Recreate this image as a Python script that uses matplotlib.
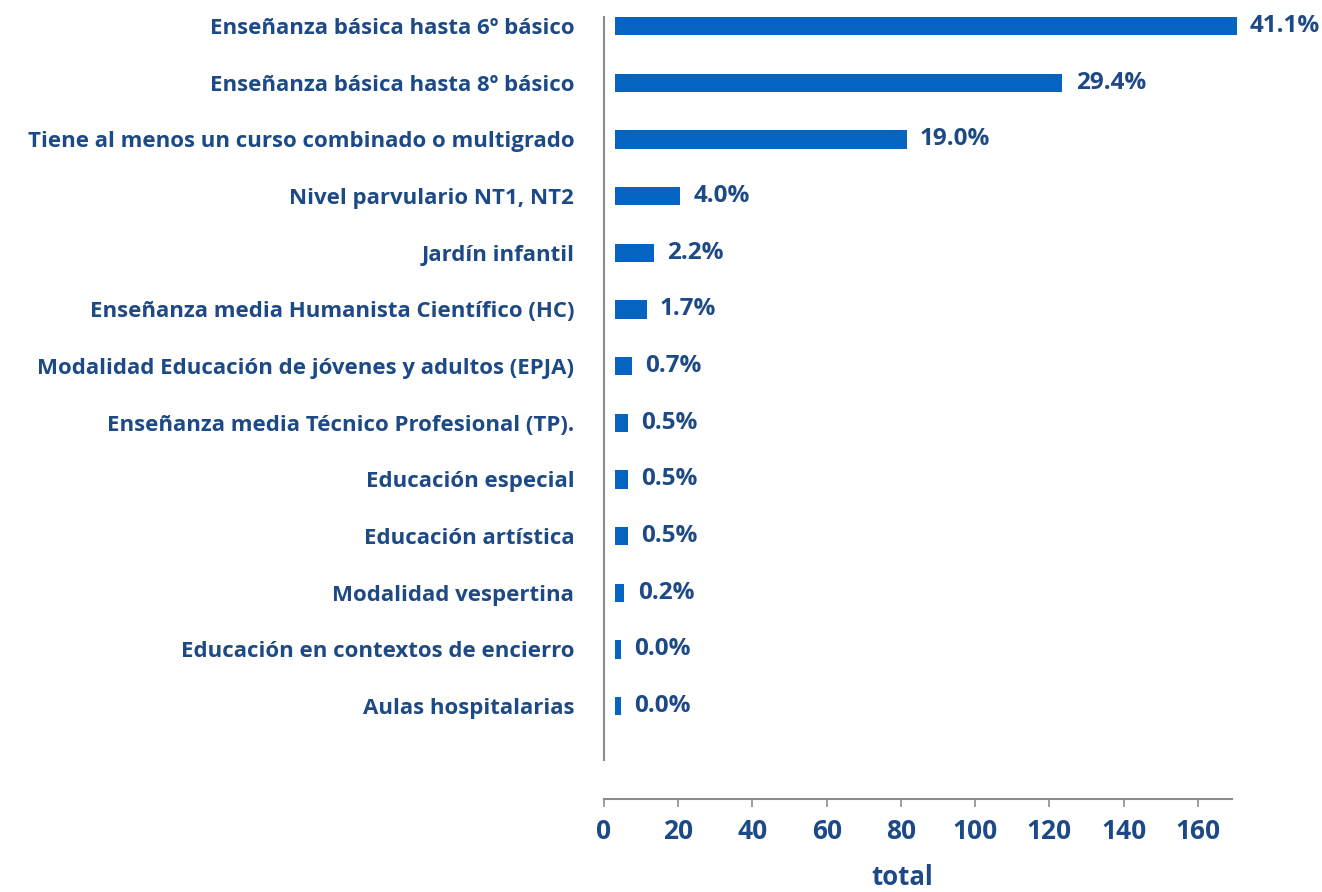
import matplotlib.pyplot as plt

plt.rcParams['font.family'] = ['Open Sans', 'DejaVu Sans']

# data
categories = [
    "Enseñanza básica hasta 6º básico",
    "Enseñanza básica hasta 8º básico",
    "Tiene al menos un curso combinado o multigrado",
    "Nivel parvulario NT1, NT2",
    "Jardín infantil",
    "Enseñanza media Humanista Científico (HC)",
    "Modalidad Educación de jóvenes y adultos (EPJA)",
    "Enseñanza media Técnico Profesional (TP).",
    "Educación especial",
    "Educación artística",
    "Modalidad vespertina",
    "Educación en contextos de encierro",
    "Aulas hospitalarias",
]
totals = [166, 119, 77, 16, 9, 7, 3, 2, 2, 2, 1, 0, 0]
pct_labels = ["41.1%", "29.4%", "19.0%", "4.0%", "2.2%", "1.7%", "0.7%",
              "0.5%", "0.5%", "0.5%", "0.2%", "0.0%", "0.0%"]
xticks = [0, 20, 40, 60, 80, 100, 120, 140, 160]

# style
bar_color = '#0563c1'
text_color = '#1d4a86'
axis_color = '#8c8c8c'
bar_start = 3.0   # bars drawn slightly detached from the axis
bar_pad = 1.5     # minimum visible length

fig = plt.figure(figsize=(13.22, 8.92), dpi=100)
ax = fig.add_axes([0.4569, 0.148, 0.4748, 0.8329])

# spines first (set_position resets the ticks)
for s in ['top', 'right']:
    ax.spines[s].set_visible(False)
ax.spines['left'].set_color(axis_color)
ax.spines['left'].set_linewidth(1.5)
ax.spines['bottom'].set_color(axis_color)
ax.spines['bottom'].set_linewidth(1.5)
ax.spines['bottom'].set_position(('outward', 28))

ypos = list(range(len(categories)))
widths = [t + bar_pad for t in totals]
ax.barh(ypos, widths, left=bar_start, height=0.32, color=bar_color, clip_on=False)

for y, w, lab in zip(ypos, widths, pct_labels):
    ax.annotate(lab, xy=(bar_start + w, y), xytext=(9.5, 0), textcoords='offset points',
                va='center', ha='left', fontsize=17.5, fontweight='bold', color=text_color,
                annotation_clip=False)

ax.set_xlim(0, 169.1)
ax.set_ylim(12.95, -0.16)
ax.tick_params(axis='y', length=0, pad=21.5)
ax.tick_params(axis='x', length=5.8, width=1.2, color=axis_color, pad=8)
ax.set_yticks(ypos, labels=categories, fontsize=16, fontweight='bold', color=text_color)
ax.set_xticks(xticks, labels=[str(v) for v in xticks], fontsize=19,
              fontweight='bold', color=text_color)

ax.set_xlabel("total", fontsize=18.5, fontweight='bold', color=text_color, labelpad=14)
ax.xaxis.label.set_x(0.475)

fig.savefig("out.png", dpi=100)
